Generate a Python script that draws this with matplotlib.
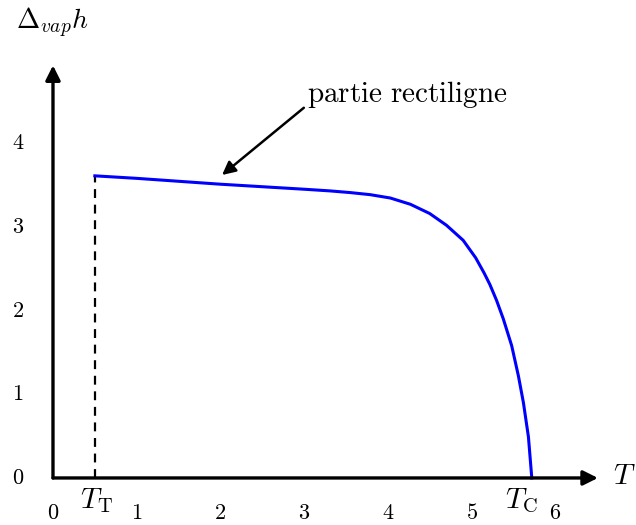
import matplotlib
matplotlib.use("Agg")
from matplotlib import pyplot as plt

plt.rcParams["mathtext.fontset"] = "cm"

# Curve (T, enthalpy of vaporisation)
T = [0.5, 1.0, 1.5, 2.0, 2.5, 3.0, 3.31, 3.55, 3.79, 4.03, 4.27, 4.50, 4.70, 4.90,
     5.05, 5.15, 5.22, 5.30, 5.38, 5.48, 5.56, 5.62, 5.68, 5.72]
dh = [3.61, 3.58, 3.545, 3.51, 3.48, 3.45, 3.43, 3.41, 3.385, 3.345, 3.27, 3.16, 3.02, 2.84,
      2.63, 2.45, 2.31, 2.12, 1.90, 1.58, 1.22, 0.90, 0.49, 0.0]

T_triple = 0.5
T_crit = 5.72
x_ticks = [0, 1, 2, 3, 4, 5, 6]
y_ticks = [0, 1, 2, 3, 4]

fig = plt.figure(figsize=(6.36, 5.25), dpi=100)
ax = fig.add_axes([0, 0, 1, 1])
ax.set_xlim(-0.633, 6.965)
ax.set_ylim(-0.562, 5.711)
ax.axis("off")

# axes with arrow heads
arrow = dict(arrowstyle="-|>", lw=2.4, color="black", mutation_scale=22, shrinkA=0, shrinkB=0)
ax.annotate("", xy=(6.51, 0), xytext=(0, 0), arrowprops=arrow)
ax.annotate("", xy=(0, 4.93), xytext=(0, 0), arrowprops=arrow)

ax.plot([T_triple, T_triple], [0, dh[0]], color="black", lw=1.6, ls=(0, (4, 3)))
ax.plot(T, dh, color="blue", lw=2.2, solid_joinstyle="round")

for x in x_ticks:
    ax.text(x, -0.42, f"${x}$", ha="center", va="center", fontsize=16)
for y in y_ticks:
    ax.text(-0.42, y, f"${y}$", ha="center", va="center", fontsize=16)

ax.text(T_triple + 0.02, -0.27, r"$T_\mathrm{T}$", ha="center", va="center", fontsize=21)
ax.text(T_crit - 0.12, -0.27, r"$T_\mathrm{C}$", ha="center", va="center", fontsize=21)
ax.text(6.83, 0.02, r"$T$", ha="center", va="center", fontsize=21)
ax.text(-0.01, 5.44, r"$\Delta_{vap}h$", ha="center", va="center", fontsize=20)

ax.annotate(r"$\mathrm{partie\ rectiligne}$", xy=(2.02, 3.62), xytext=(3.03, 4.58),
            ha="left", va="center", fontsize=21,
            arrowprops=dict(arrowstyle="-|>", lw=1.8, color="black", mutation_scale=20,
                            shrinkA=0, shrinkB=0, relpos=(0, 0.15)))

fig.savefig("out.png", dpi=100)
